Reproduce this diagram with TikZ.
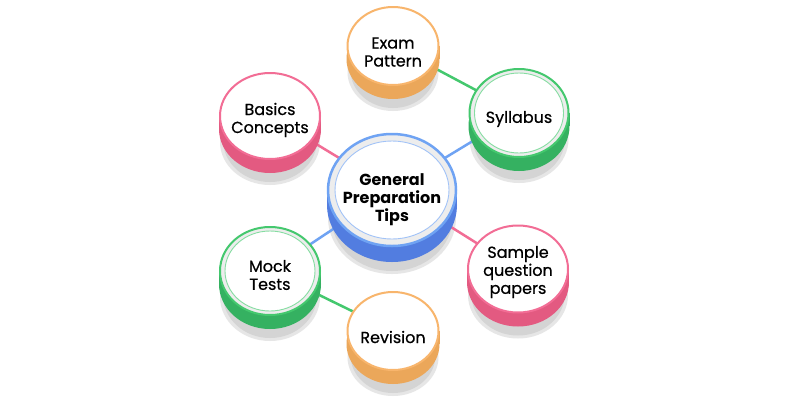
\documentclass[tikz,border=0pt]{standalone}
\usepackage{fontspec}
\setmainfont{Poppins}
\newfontfamily\medfont{Poppins}[FakeBold=0.6]
\usetikzlibrary{shapes.geometric,calc}
\pgfdeclarelayer{bg}
\pgfsetlayers{bg,main}
\definecolor{pinkline}{HTML}{F26D95}
\definecolor{pinkband}{HTML}{E35A81}
\definecolor{orangeline}{HTML}{F8B56C}
\definecolor{orangeband}{HTML}{EBA75A}
\definecolor{greenline}{HTML}{44C86E}
\definecolor{greenband}{HTML}{35B161}
\definecolor{greeninner}{HTML}{86DDA2}
\definecolor{blueline}{HTML}{6FA3F3}
\definecolor{blueband}{HTML}{527DE0}
\definecolor{blueinner}{HTML}{A2C3F7}
\definecolor{ringgray}{HTML}{EDEDED}
\definecolor{shadowgray}{HTML}{D4D4D4}
\definecolor{shadowlight}{HTML}{E6E6E6}
\tikzset{
  face/.style n args={3}{ellipse, minimum width=#1, minimum height=#2, inner sep=0pt,
    draw=#3, line width=2pt, fill=white},
  ringface/.style n args={6}{face={#1}{#2}{#3}, fill=ringgray,
    path picture={\draw[#4, line width=0.9pt, fill=white]
      (path picture bounding box.center) ellipse ({#5} and {#6});}},
  txt/.style={align=center, text=black, font=\medfont\fontsize{16}{18}\selectfont},
  bigtxt/.style={align=center, text=black, font=\fontsize{16}{18}\selectfont\bfseries},
  link/.style={line width=2.5pt},
}
\newcommand\cylbase[4]{%
  \pgfmathsetmacro\cbsh{#4+11}%
  \pgfmathsetmacro\cbshb{#4+13}%
  \pgfmathsetmacro\cbsrx{#2-3}%
  \pgfmathsetmacro\cbsry{#3-1}%
  \fill[shadowlight] ($(#1.center)+(0,\cbshb)$) ellipse ({#2 pt} and {#3 pt});
  \fill[shadowgray] ($(#1.center)+(0,\cbsh)$) ellipse ({\cbsrx pt} and {\cbsry pt});
}
\newcommand\cylband[5]{%
  \pgfmathsetmacro\cbrx{#2+1}%
  \pgfmathsetmacro\cbry{#3+1}%
  \fill[#5] ($(#1.center)+(0,#4)$) ellipse ({\cbrx pt} and {\cbry pt});
  \fill[#5] ($(#1.center)+(-\cbrx,0)$) rectangle ($(#1.center)+(\cbrx,#4)$);
}
\begin{document}
\begin{tikzpicture}[x=1pt,y=-1pt]
\useasboundingbox (0,0) rectangle (800,400);
% faces
\node[ringface={128pt}{112pt}{blueline}{blueinner}{57pt}{49pt}, line width=2.5pt,
  label={[bigtxt,yshift=-10pt]center:General\\Preparation\\Tips}] (gen) at (392,190) {};
\node[face={91pt}{78pt}{orangeline},
  label={[txt,yshift=-6pt]center:Exam\\Pattern}] (exam) at (393,46) {};
\node[ringface={99pt}{88pt}{greenline}{greeninner}{44.5pt}{40pt},
  label={[txt,yshift=-6pt]center:Syllabus}] (syl) at (519,113) {};
\node[face={100pt}{86pt}{pinkline},
  label={[txt,yshift=-4pt]center:Basics\\Concepts}] (basic) at (270,116) {};
\node[face={100pt}{87pt}{pinkline},
  label={[txt,yshift=-3pt]center:Sample\\question\\papers}] (sample) at (518,269) {};
\node[ringface={100pt}{88pt}{greenline}{greeninner}{45pt}{40pt},
  label={[txt,yshift=-4pt]center:Mock\\Tests}] (mock) at (270,271) {};
\node[face={91pt}{78pt}{orangeline},
  label={[txt,yshift=-6pt]center:Revision}] (rev) at (393,331) {};
\begin{pgfonlayer}{bg}
\fill[white] (0,0) rectangle (800,400);
\cylbase{gen}{64}{56}{15}
\cylbase{exam}{45.5}{39}{13}
\cylbase{syl}{49.5}{44}{13}
\cylbase{basic}{50}{43}{13}
\cylbase{sample}{50}{43.5}{13}
\cylbase{mock}{50}{44}{13}
\cylbase{rev}{45.5}{39}{13}
\draw[link, greenline] (exam.center) -- (syl.center);
\draw[link, blueline] (syl.center) -- (gen.center);
\draw[link, pinkline] (basic.center) -- (gen.center);
\draw[link, pinkline] (gen.center) -- (sample.center);
\draw[link, blueline] (gen.center) -- (mock.center);
\draw[link, greenline] (mock.center) -- (rev.center);
\cylband{gen}{64}{56}{15}{blueband}
\cylband{exam}{45.5}{39}{13}{orangeband}
\cylband{syl}{49.5}{44}{13}{greenband}
\cylband{basic}{50}{43}{13}{pinkband}
\cylband{sample}{50}{43.5}{13}{pinkband}
\cylband{mock}{50}{44}{13}{greenband}
\cylband{rev}{45.5}{39}{13}{orangeband}
\end{pgfonlayer}
\end{tikzpicture}
\end{document}
